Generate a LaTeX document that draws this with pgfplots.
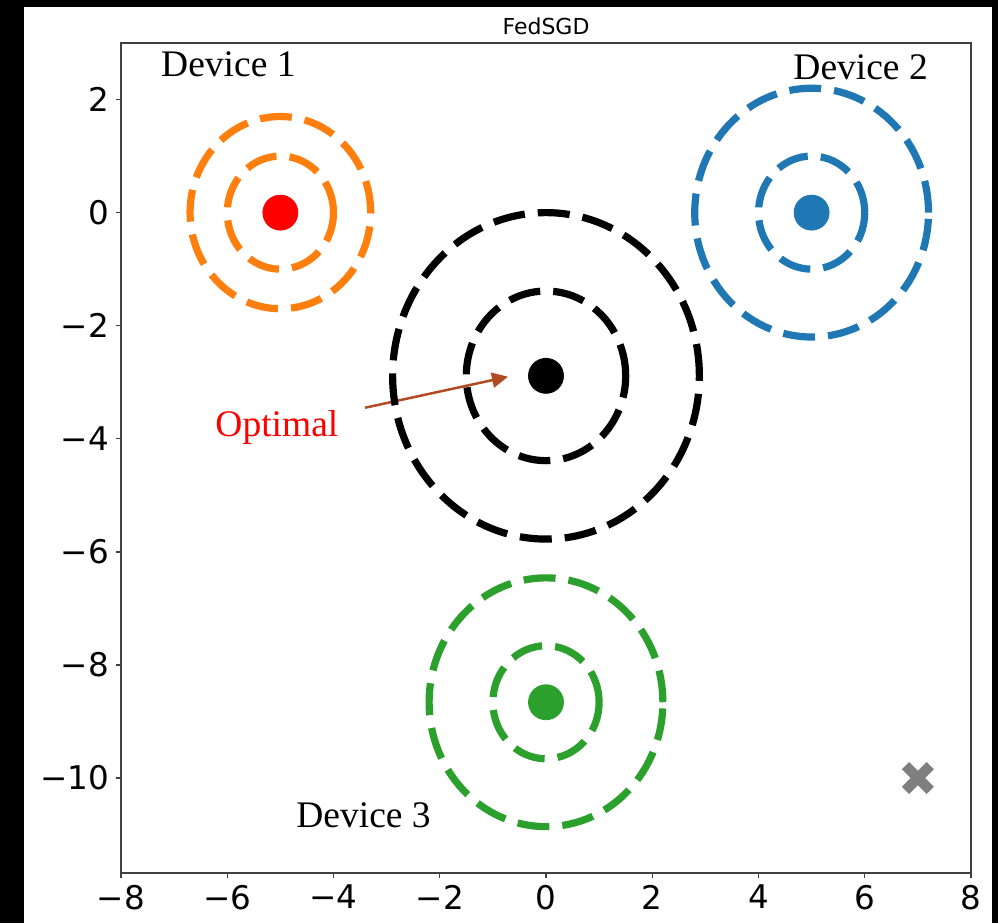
\documentclass[border=0pt]{standalone}
\usepackage{fontspec}
\setmainfont{Liberation Serif}
\newfontfamily\dejavu{DejaVu Sans}
\usepackage{pgfplots}
\pgfplotsset{compat=1.18}
\usepackage{pgfplotstable}
\usetikzlibrary{arrows.meta}

\definecolor{tabblue}{HTML}{1F77B4}
\definecolor{taborange}{HTML}{FF7F0E}
\definecolor{tabgreen}{HTML}{2CA02C}
\definecolor{tabgray}{HTML}{7F7F7F}
\definecolor{arrowc}{RGB}{178,75,35}

% dashed ring whose radius (in data units) comes from the table column r
\pgfdeclareplotmark{dring}{%
  \pgfsetlinewidth{3.6pt}%
  \pgfsetdash{{16pt}{6.5pt}}{0pt}%
  \pgfpathellipse{\pgfpointorigin}{\pgfpoint{\rad*26.5625pt}{0pt}}{\pgfpoint{0pt}{\rad*28.27pt}}%
  \pgfusepathqstroke}
% bold filled-looking cross
\pgfdeclareplotmark{bigx}{%
  \pgfsetlinewidth{5.2pt}%
  \pgfsetbuttcap
  \pgfpathmoveto{\pgfqpoint{-6.2pt}{-6.2pt}}\pgfpathlineto{\pgfqpoint{6.2pt}{6.2pt}}%
  \pgfpathmoveto{\pgfqpoint{-6.2pt}{6.2pt}}\pgfpathlineto{\pgfqpoint{6.2pt}{-6.2pt}}%
  \pgfusepathqstroke}

\pgfplotstableread{
x y r
-5 0 1.0
-5 0 1.7
}\devone
\pgfplotstableread{
x y r
5 0 1.0
5 0 2.2
}\devtwo
\pgfplotstableread{
x y r
0 -2.887 1.5
0 -2.887 2.887
}\optimal
\pgfplotstableread{
x y r
0 -8.66 1.0
0 -8.66 2.2
}\devthree

\pgfplotsset{
  ring/.style={scatter, only marks, mark=dring, draw=#1,
    visualization depends on={\thisrow{r}\as\rad},
    scatter/@pre marker code/.code={\scope},
    scatter/@post marker code/.code={\endscope},
    mark options={draw=#1, line cap=butt}},
}

\begin{document}
\begin{tikzpicture}
\useasboundingbox (-60.5pt,-25pt) rectangle (438.5pt,436.5pt);
\fill[black] (-60.5pt,-25pt) rectangle (438.5pt,436.5pt);
\fill[white] (-48.5pt,-25pt) rectangle (435.5pt,433pt);
\begin{axis}[
  at={(0,0)}, anchor=south west,
  width=425pt, height=415pt, scale only axis,
  xmin=-8, xmax=8, ymin=-11.68, ymax=3,
  xtick={-8,-6,-4,-2,0,2,4,6,8},
  xticklabels={−8,−6,−4,−2,0,2,4,6,8},
  ytick={-10,-8,-6,-4,-2,0,2},
  yticklabels={−10,−8,−6,−4,−2,0,2},
  tick label style={font=\dejavu\fontsize{16.3}{16}\selectfont},
  tick align=outside, major tick length=2.5pt,
  xtick pos=bottom, ytick pos=left,
  axis line style={black!75, line width=0.7pt},
  every tick/.style={black!75, line width=0.7pt},
  title={FedSGD},
  title style={font=\dejavu\fontsize{11}{12}\selectfont, at={(0.5,1)}, anchor=base, yshift=-1.5pt, inner sep=0pt},
  clip=false,
]
\addplot[ring=taborange] table[x=x,y=y] {\devone};
\addplot[ring=tabblue] table[x=x,y=y] {\devtwo};
\addplot[ring=black] table[x=x,y=y] {\optimal};
\addplot[ring=tabgreen] table[x=x,y=y] {\devthree};

\addplot[only marks, mark=*, mark size=8.75pt, color=red] coordinates {(-5,0)};
\addplot[only marks, mark=*, mark size=8.75pt, color=tabblue] coordinates {(5,0)};
\addplot[only marks, mark=*, mark size=8.75pt, color=black] coordinates {(0,-2.887)};
\addplot[only marks, mark=*, mark size=8.75pt, color=tabgreen] coordinates {(0,-8.66)};
\addplot[only marks, mark=bigx, color=tabgray] coordinates {(7,-10)};

\draw[-{Triangle[length=8pt,width=7.5pt]}, line width=1.25pt, arrowc] (axis cs:-3.407,-3.451) -- (axis cs:-0.715,-2.903);

\node[anchor=base west, inner sep=0pt, font=\fontsize{18.75}{20}\selectfont] at (axis cs:-7.25,2.41) {Device 1};
\node[anchor=base west, inner sep=0pt, font=\fontsize{18.75}{20}\selectfont] at (axis cs:4.65,2.354) {Device 2};
\node[anchor=base west, inner sep=0pt, font=\fontsize{18.75}{20}\selectfont] at (axis cs:-4.706,-10.87) {Device 3};
\node[anchor=base west, inner sep=0pt, font=\fontsize{18.75}{20}\selectfont, text=red] at (axis cs:-6.23,-3.965) {Optimal};
\end{axis}
\end{tikzpicture}
\end{document}
